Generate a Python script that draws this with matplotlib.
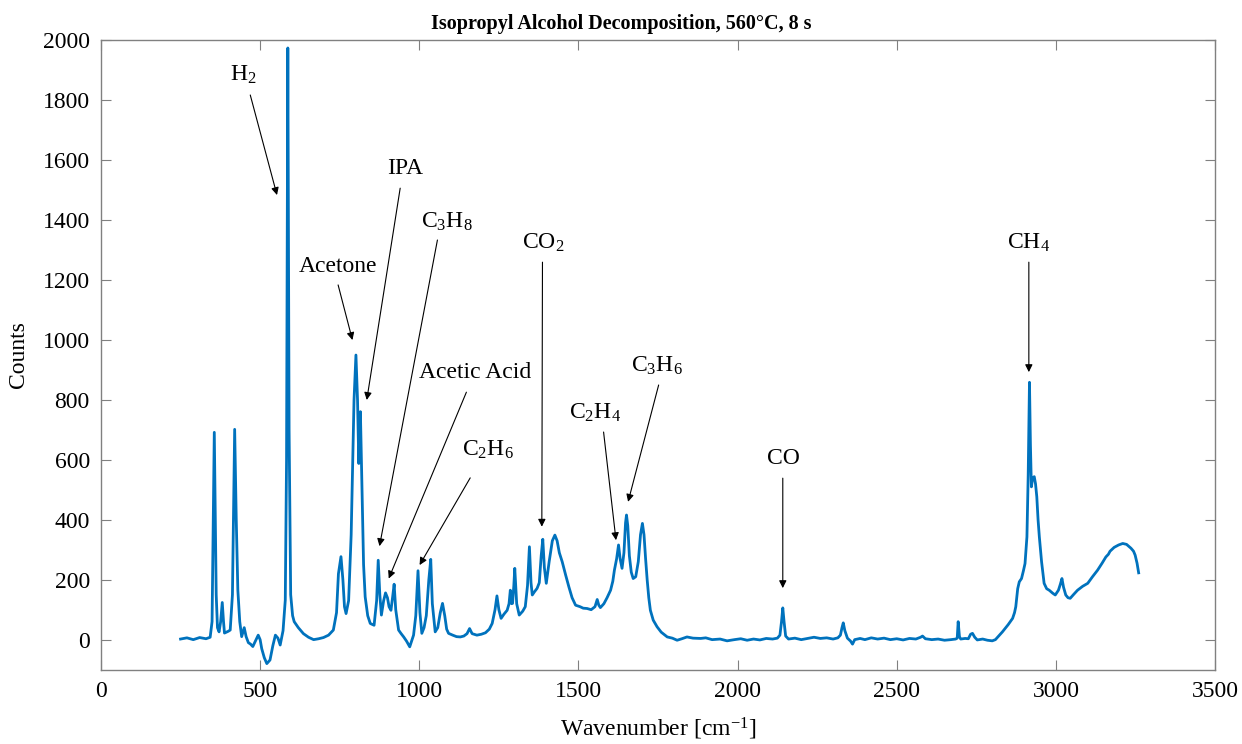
import matplotlib
matplotlib.use("Agg")
import matplotlib.pyplot as plt

plt.rcParams['font.family'] = ['Liberation Serif', 'DejaVu Serif']
plt.rcParams['mathtext.default'] = 'regular'

# spectrum (wavenumber, counts)
wavenumber = [250, 270, 290, 310, 330, 343, 349, 356, 362, 366, 371, 376, 381, 385, 388, 400, 406, 413, 420, 425,
              430, 436, 442, 450, 456, 463, 470, 477, 485, 494, 500, 505, 513, 521, 531, 540, 548, 556, 563, 572,
              579, 583, 587, 591, 596, 602, 607, 620, 636, 652, 668, 684, 699, 715, 730, 740, 746, 754, 760, 765,
              770, 778, 786, 795, 801, 806, 810, 815, 820, 825, 830, 838, 846, 858, 866, 871, 876, 881, 888, 894,
              900, 905, 911, 916, 921, 926, 935, 943, 951, 960, 970, 976, 982, 989, 996, 1002, 1008, 1015, 1022, 1030,
              1036, 1041, 1050, 1058, 1066, 1073, 1080, 1086, 1092, 1105, 1117, 1129, 1140, 1150, 1158, 1166, 1181, 1195, 1208, 1220,
              1229, 1238, 1244, 1250, 1257, 1266, 1276, 1282, 1286, 1290, 1293, 1297, 1300, 1306, 1314, 1325, 1333, 1340, 1346, 1351,
              1355, 1362, 1370, 1377, 1383, 1388, 1393, 1399, 1408, 1418, 1426, 1433, 1440, 1449, 1460, 1470, 1480, 1491, 1505, 1515,
              1527, 1540, 1552, 1559, 1564, 1569, 1580, 1590, 1601, 1608, 1613, 1620, 1626, 1631, 1637, 1643, 1648, 1651, 1655, 1660,
              1666, 1672, 1680, 1688, 1695, 1701, 1706, 1711, 1716, 1721, 1726, 1735, 1747, 1760, 1779, 1795, 1810, 1825, 1841, 1860,
              1884, 1900, 1920, 1945, 1967, 1990, 2010, 2030, 2050, 2070, 2090, 2110, 2125, 2133, 2138, 2142, 2146, 2151, 2160, 2180,
              2200, 2220, 2240, 2260, 2280, 2300, 2315, 2323, 2328, 2332, 2337, 2345, 2355, 2361, 2368, 2385, 2400, 2420, 2440, 2460,
              2480, 2500, 2520, 2540, 2560, 2575, 2581, 2590, 2610, 2630, 2650, 2670, 2685, 2690, 2693, 2697, 2701, 2715, 2725, 2732,
              2738, 2745, 2753, 2770, 2785, 2800, 2810, 2820, 2832, 2850, 2864, 2870, 2874, 2880, 2885, 2892, 2898, 2903, 2909, 2913,
              2917, 2920, 2923, 2927, 2932, 2936, 2940, 2944, 2948, 2955, 2963, 2971, 2979, 2990, 2998, 3008, 3014, 3019, 3024, 3031,
              3038, 3045, 3055, 3068, 3084, 3100, 3115, 3131, 3145, 3157, 3165, 3170, 3183, 3197, 3210, 3222, 3236, 3244, 3249, 3255,
              3260]
counts = [2, 6, 0, 7, 3, 8, 60, 692, 150, 40, 26, 60, 124, 60, 22, 28, 32, 150, 702, 400,
          165, 60, 10, 40, 10, -10, -15, -23, -5, 15, 0, -30, -60, -80, -68, -20, 15, 5, -18, 30,
          132, 600, 1975, 700, 150, 80, 60, 40, 20, 8, 0, 3, 7, 15, 32, 90, 220, 277, 200, 110,
          87, 130, 350, 800, 950, 800, 588, 761, 500, 250, 143, 80, 54, 48, 130, 265, 150, 82, 130, 156,
          140, 110, 98, 140, 185, 100, 32, 20, 9, -5, -24, -5, 15, 80, 230, 90, 21, 40, 80, 200,
          268, 120, 26, 40, 90, 121, 80, 35, 21, 15, 10, 9, 12, 20, 37, 20, 15, 18, 23, 35,
          54, 100, 146, 100, 71, 85, 98, 120, 165, 120, 121, 180, 238, 120, 82, 95, 110, 180, 310, 190,
          149, 160, 171, 190, 280, 335, 240, 188, 260, 330, 349, 330, 290, 260, 215, 176, 140, 115, 110, 105,
          104, 100, 110, 134, 115, 107, 120, 140, 165, 195, 232, 270, 316, 270, 238, 290, 390, 416, 380, 280,
          225, 204, 210, 260, 350, 388, 350, 270, 199, 140, 98, 65, 43, 25, 9, 5, -2, 3, 9, 5,
          4, 6, 0, 2, -4, 0, 3, -2, 2, -1, 4, 2, 5, 15, 60, 106, 60, 12, 2, 5,
          0, 4, 8, 4, 6, 2, 6, 15, 40, 56, 30, 5, -5, -15, 0, 4, 0, 6, 2, 5,
          0, 3, -1, 4, 2, 8, 12, 3, 0, 2, -2, 0, 2, 5, 60, 10, 2, 4, 3, 18,
          21, 8, -1, 2, -2, -4, 0, 12, 26, 50, 71, 90, 110, 170, 193, 204, 230, 254, 343, 550,
          859, 650, 510, 540, 544, 520, 477, 400, 343, 260, 188, 170, 165, 155, 149, 165, 185, 204, 175, 149,
          140, 138, 150, 165, 178, 188, 210, 232, 255, 276, 285, 295, 308, 316, 321, 318, 305, 295, 282, 255,
          223]

# annotations: label, label position, arrow start, arrow tip
labels = ['H$_2$', 'Acetone', 'IPA', 'C$_3$H$_8$', 'Acetic Acid', 'C$_2$H$_6$',
          'CO$_2$', 'C$_2$H$_4$', 'C$_3$H$_6$', 'CO', 'CH$_4$']
label_xy = [(447, 1885), (745, 1244), (956, 1574), (1088, 1394), (1176, 893), (1217, 633),
            (1390, 1324), (1553, 756), (1748, 913), (2145, 606), (2915, 1324)]
arrow_from = [(469, 1818), (745, 1184), (940, 1507), (1057, 1334), (1148, 826), (1160, 540),
              (1387, 1260), (1579, 693), (1752, 850), (2142, 539), (2915, 1260)]
arrow_to = [(553, 1484), (790, 1000), (835, 800), (875, 312), (904, 204), (1001, 249),
            (1385, 377), (1618, 332), (1656, 460), (2142, 172), (2915, 893)]

fig = plt.figure(figsize=(12.42, 7.44), dpi=100)
ax = fig.add_axes([0.0813, 0.100, 0.8970, 0.8456])

ax.plot(wavenumber, counts, color='#0072BD', lw=2.0)

for lab, pos, a0, a1 in zip(labels, label_xy, arrow_from, arrow_to):
    ax.text(pos[0], pos[1], lab, fontsize=17, ha='center', va='center')
    ax.annotate('', xy=a1, xytext=a0,
                arrowprops=dict(arrowstyle='-|>', color='k', lw=0.8,
                                mutation_scale=11, shrinkA=0, shrinkB=0))

ax.set_xlim(0, 3500)
ax.set_ylim(-100, 2000)
ax.set_xticks(range(0, 3501, 500))
ax.set_yticks(range(0, 2001, 200))
ax.tick_params(direction='in', length=7, width=0.8, top=True, right=True,
               labelsize=17, color='#808080', pad=8)
for s in ax.spines.values():
    s.set_color('#808080')
    s.set_linewidth(1.0)

ax.set_xlabel('Wavenumber [cm$^{-1}$]', fontsize=17, labelpad=10)
ax.set_ylabel('Counts', fontsize=17, labelpad=10)
ax.set_title('Isopropyl Alcohol Decomposition, 560°C, 8 s', fontsize=14.5,
             fontweight='bold', pad=8, x=0.467)

fig.savefig('out.png', dpi=100)
